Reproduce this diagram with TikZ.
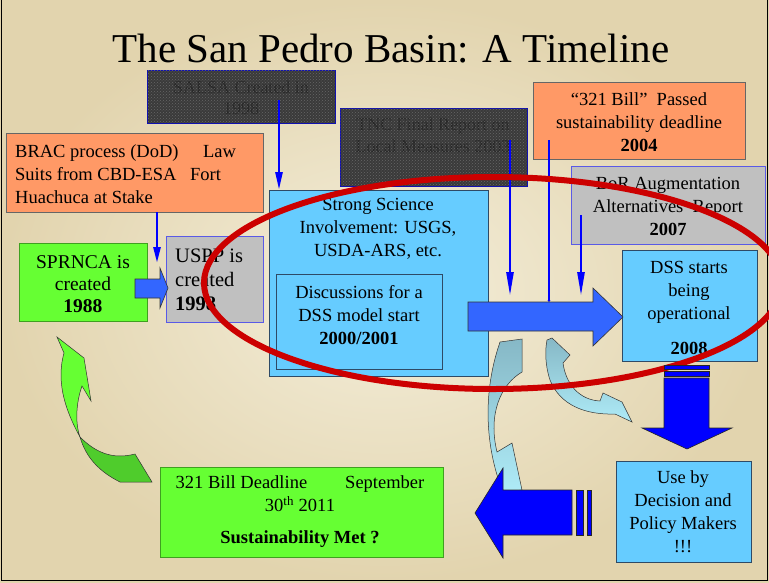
\documentclass[tikz,border=0pt]{standalone}
\usepackage{fontspec}
\setmainfont{Liberation Serif}
\usetikzlibrary{arrows.meta,patterns}
\definecolor{parchin}{HTML}{F4EEDA}
\definecolor{parchout}{HTML}{E2D4AE}
\definecolor{orangefill}{HTML}{FF9966}
\definecolor{grayfill}{HTML}{C0C0C0}
\definecolor{grayedge}{HTML}{5A5AE6}
\definecolor{greenfill}{HTML}{66FF33}
\definecolor{greenedge}{HTML}{3FA020}
\definecolor{darkgreen}{HTML}{4FCC2C}
\definecolor{cyanfill}{HTML}{66CCFF}
\definecolor{cyanedge}{HTML}{2E4A66}
\definecolor{darkfill}{HTML}{3A3A3A}
\definecolor{darktext}{HTML}{262626}
\definecolor{darkedge}{HTML}{1010B0}
\definecolor{arrowblue}{HTML}{3366FF}
\definecolor{pureblue}{HTML}{0000FF}
\definecolor{ellred}{HTML}{CC0000}
\definecolor{tealtop}{HTML}{86B8C6}
\definecolor{tealbot}{HTML}{AEEBF7}
\tikzset{
  boxbase/.style={rectangle, anchor=north west, inner sep=0pt, line width=0.8pt},
  orangebox/.style={boxbase, fill=orangefill, draw=black!60},
  graybox/.style={boxbase, fill=grayfill, draw=grayedge},
  greenbox/.style={boxbase, fill=greenfill, draw=greenedge},
  cyanbox/.style={boxbase, fill=cyanfill, draw=cyanedge},
  darkbox/.style={boxbase, fill=darkfill, draw=darkedge, line width=1.2pt},
  txt/.style={inner sep=0pt, align=center, text=black, font=\fontsize{18.5}{23}\selectfont},
  darktxt/.style={txt, text=darktext},
  thinarrow/.style={draw=pureblue, line width=2.6pt, -{Triangle[length=24pt,width=7pt]}},
  blockarrow/.style={fill=arrowblue, draw=black!80, line width=0.6pt},
  darkblock/.style={fill=pureblue, draw=black!85, line width=0.6pt},
  curvearrow/.style={draw=black!80, line width=0.5pt, top color=tealtop, bottom color=tealbot}
}
\begin{document}
\begin{tikzpicture}[x=1pt,y=-1pt]
\useasboundingbox (0,0) rectangle (769,582);
\begin{scope}
\clip (0,0) rectangle (769,582);
\shade[inner color=parchin, outer color=parchout] (0,0) rectangle (769,582);
\draw[black, line width=1pt] (1,0) -- (1,580) -- (767,580) -- (767,0);

% title
\node[anchor=base, inner sep=0pt, font=\fontsize{41}{41}\selectfont] (title) at (391,62) {The San Pedro Basin: A Timeline};

% boxes
\node[darkbox, minimum width=188pt, minimum height=53pt] (salsa) at (147,70) {};
\node[darkbox, minimum width=187pt, minimum height=78pt] (tnc) at (340,108) {};
\node[orangebox, minimum width=212pt, minimum height=77pt] (bill) at (533,82) {};
\node[graybox, minimum width=194pt, minimum height=78pt] (bor) at (571,166) {};
\node[orangebox, minimum width=257pt, minimum height=79pt] (brac) at (6,133) {};
\node[greenbox, minimum width=128pt, minimum height=78pt] (sprnca) at (19,243) {};
\node[graybox, minimum width=97pt, minimum height=86pt] (uspp) at (166,236) {};
\node[cyanbox, minimum width=219pt, minimum height=186pt] (ss) at (269,190) {};
\node[cyanbox, minimum width=166pt, minimum height=95pt] (disc) at (276,274) {};
\node[cyanbox, minimum width=135pt, minimum height=111pt] (dss) at (622,250) {};
\node[cyanbox, minimum width=135pt, minimum height=101pt] (use) at (616,461) {};
\node[greenbox, minimum width=283pt, minimum height=90pt] (dead) at (160,467) {};

% texts
\node[darktxt, font=\fontsize{18}{21}\selectfont] (salsat) at (241,98) {\color{darktext}SALSA Created in\\\color{darktext}1998};
\node[darktxt, font=\fontsize{18}{22}\selectfont] (tnct) at (433,135) {\color{darktext}TNC Final Report on\\\color{darktext}Local Measures 2003};
\fill[pattern=crosshatch dots, pattern color=black!60] (147.6,70.6) rectangle (334.4,122.4);
\fill[pattern=crosshatch dots, pattern color=black!60] (340.6,108.6) rectangle (526.4,185.4);
\node[txt] (billt) at (639,122) {“321 Bill”\ \ Passed\\sustainability deadline\\\textbf{2004}};
\node[txt] (bort) at (668,206) {BoR Augmentation\\Alternatives\ \ Report\\\textbf{2007}};
\node[txt, align=left, anchor=west] (bract) at (15,174) {\makebox[188pt][l]{BRAC process (DoD)}Law\\\makebox[175pt][l]{Suits from CBD-ESA}Fort\\Huachuca at Stake};
\node[txt, font=\fontsize{19.5}{22}\selectfont] (sprncat) at (83,284) {SPRNCA is\\created\\\textbf{1988}};
\node[txt, align=left, anchor=west, font=\fontsize{20.5}{24}\selectfont] (usppt) at (175,280) {USPP is\\created\\\textbf{1998}};
\node[txt, anchor=north] (sst) at (378,198) {Strong Science\\Involvement: USGS,\\USDA-ARS, etc.};
\node[txt] (disct) at (359,315) {Discussions for a\\DSS model start\\\textbf{2000/2001}};
\node[txt] (dsst) at (689,308) {DSS starts\\being\\operational\\[12pt]\textbf{2008}};
\node[txt] (uset) at (683,512) {Use by\\Decision and\\Policy Makers\\!!!};
\node[txt] (deadt) at (300,512) {321 Bill Deadline\hspace{38pt}September\\30\textsuperscript{th} 2011\\[9pt]\textbf{Sustainability Met ?}};

% green curved arrow
\path[fill=greenfill, draw=black!80, line width=0.5pt]
  (57,337) -- (84,358) -- (91,401) -- (82,386)
  .. controls (76,403) and (75,423) .. (80,437)
  .. controls (68,415) and (55,385) .. (64,353) -- cycle;
\path[fill=darkgreen, draw=black!80, line width=0.5pt]
  (80,437) .. controls (95,452) and (112,460) .. (135,454)
  -- (152,482) -- (120,482)
  .. controls (100,472) and (86,458) .. (80,437) -- cycle;

% thin arrows
\coordinate (a1s) at (157,212); \coordinate (a1e) at (157,263);
\coordinate (a2s) at (279,100); \coordinate (a2e) at (279,190);
\coordinate (a3s) at (510,140); \coordinate (a3e) at (510,296);
\coordinate (a4s) at (549,140); \coordinate (a4e) at (549,302);
\coordinate (a5s) at (581,215); \coordinate (a5e) at (581,296);
\draw[thinarrow, -{Triangle[length=16pt,width=7pt]}] (a1s) -- (a1e);
\draw[thinarrow, -{Triangle[length=18pt,width=7pt]}] (a2s) -- (a2e);
\draw[thinarrow] (a3s) -- (a3e);
\draw[thinarrow, -{Triangle[length=2pt,width=3pt]}] (a4s) -- (a4e);
\draw[thinarrow] (a5s) -- (a5e);

% block arrows
\path[blockarrow] (468,302) -- (593,302) -- (593,288) -- (623,317) -- (593,346) -- (593,331) -- (468,331) -- cycle;
\path[blockarrow] (135,279) -- (160,279) -- (160,268) -- (168,288) -- (160,308) -- (160,298) -- (135,298) -- cycle;

% curved teal arrows
\path[curvearrow] (500,342) -- (522,339) -- (522,372)
  .. controls (500,385) and (488,415) .. (497,452) -- (512,443) -- (522,490) -- (503,492)
  .. controls (488,455) and (480,400) .. (500,342) -- cycle;
\path[curvearrow] (547,340) -- (552,338) -- (570,355) -- (563,363)
  .. controls (566,385) and (580,400) .. (600,401) -- (603,393) -- (622,402) -- (632,422) -- (615,414)
  .. controls (585,415) and (560,405) .. (550,380)
  .. controls (545,365) and (545,350) .. (547,340) -- cycle;

% red ellipse
\draw[ellred, line width=6pt] (493,283) ellipse [x radius=289, y radius=106];

% down arrow
\path[darkblock] (664,365) rectangle (709,369);
\path[darkblock] (664,371) rectangle (709,376);
\path[darkblock] (664,378) -- (709,378) -- (709,428) -- (732,428) -- (687,449) -- (642,428) -- (664,428) -- cycle;

% left arrow
\path[darkblock] (576,490) rectangle (583,535);
\path[darkblock] (587,490) rectangle (591,535);
\path[darkblock] (572,490) -- (503,490) -- (503,468) -- (475,513) -- (503,558) -- (503,535) -- (572,535) -- cycle;
\end{scope}
\end{tikzpicture}
\end{document}
